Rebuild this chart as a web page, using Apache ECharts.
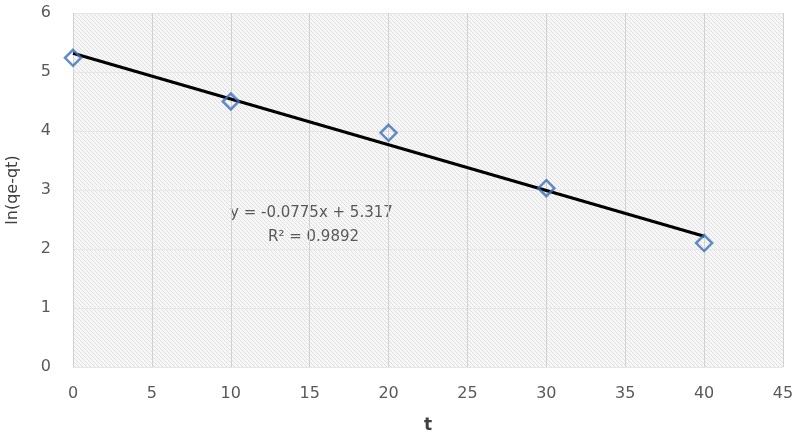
<!DOCTYPE html>
<html>
<head>
<meta charset="utf-8">
<script src="https://cdn.jsdelivr.net/npm/echarts@6/dist/echarts.min.js"></script>
<style>
  html, body { margin: 0; padding: 0; background: #fff; }
  #chart { width: 793px; height: 436px; }
</style>
</head>
<body>
<div id="chart"></div>
<script>
// datos
let tiempos = [0, 10, 20, 30, 40];
let lnValores = [5.24, 4.5, 3.97, 3.03, 2.1];
let tendencia = [[0, 5.317], [40, 2.217]];
let ecuacion = 'y = -0.0775x + 5.317';
let r2 = 'R² = 0.9892';

let puntos = tiempos.map((t, i) => [t, lnValores[i]]);

// fondo rayado tipo Excel
let rayas = document.createElement('canvas');
rayas.width = 4;
rayas.height = 4;
let ctx = rayas.getContext('2d');
ctx.fillStyle = '#f7f7f7';
ctx.fillRect(0, 0, 4, 4);
ctx.strokeStyle = '#e0e0e0';
ctx.lineWidth = 1;
ctx.beginPath();
ctx.moveTo(0, 0);
ctx.lineTo(4, 4);
ctx.stroke();

let fuente = 'DejaVu Sans';

let chart = echarts.init(document.getElementById('chart'));

let option = {
    animation: false,
    grid: {
        left: 73,
        right: 10,
        top: 13,
        bottom: 69,
        outerBoundsMode: 'none',
        containLabel: false,
        show: true,
        borderWidth: 0,
        backgroundColor: { image: rayas, repeat: 'repeat' }
    },
    xAxis: {
        type: 'value',
        min: 0,
        max: 45,
        interval: 5,
        name: 't',
        nameLocation: 'middle',
        nameGap: 50,
        nameTextStyle: { color: '#404040', fontSize: 17, fontWeight: 'bold', fontFamily: fuente },
        axisLine: { show: false },
        axisTick: { show: false },
        axisLabel: { color: '#595959', fontSize: 16, margin: 19, fontFamily: fuente },
        splitLine: { lineStyle: { color: '#d2d2d2', width: 1 } }
    },
    yAxis: {
        type: 'value',
        min: 0,
        max: 6,
        interval: 1,
        name: 'ln(qe-qt)',
        nameLocation: 'middle',
        nameGap: 52,
        nameRotate: 90,
        nameTextStyle: { color: '#404040', fontSize: 16, fontFamily: fuente },
        axisLine: { show: false },
        axisTick: { show: false },
        axisLabel: { color: '#595959', fontSize: 16, margin: 22, fontFamily: fuente },
        splitLine: { lineStyle: { color: '#e6e6e6', width: 1 } }
    },
    series: [{
        name: 'tendencia',
        type: 'line',
        data: tendencia,
        symbol: 'none',
        lineStyle: { color: '#000', width: 3 },
        z: 2
    }, {
        name: 'ln(qe-qt)',
        type: 'scatter',
        data: puntos,
        symbol: 'diamond',
        symbolSize: [16, 16],
        itemStyle: { color: 'rgba(255,255,255,0)', borderColor: '#3d6fb6', borderWidth: 2.5 },
        z: 3
    }],
    graphic: [{
        type: 'text',
        left: 230,
        top: 206,
        style: { text: ecuacion, fill: '#595959', fontSize: 15, fontFamily: fuente }
    }, {
        type: 'text',
        left: 268,
        top: 230,
        style: { text: r2, fill: '#595959', fontSize: 15, fontFamily: fuente }
    }]
};

option && chart.setOption(option);
window.addEventListener('resize', chart.resize);
</script>
</body>
</html>
